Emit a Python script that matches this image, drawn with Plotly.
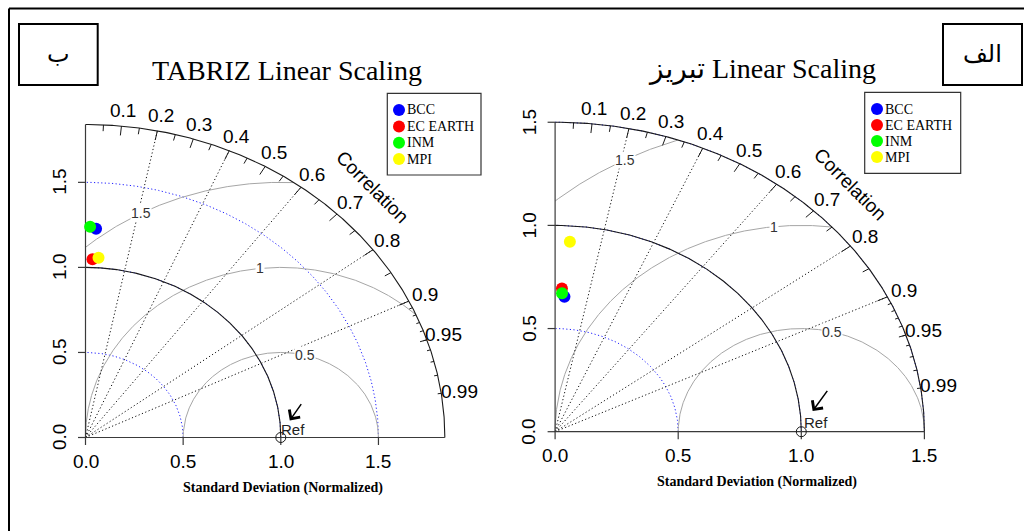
import numpy as np
import plotly.graph_objects as go

# ---------------- data ----------------
models = ["BCC", "EC EARTH", "INM", "MPI"]
model_colors = ["#0000FF", "#FF0000", "#00FF00", "#FFFF00"]

# panel "ب" (left): TABRIZ Linear Scaling
left_sd = [1.229, 1.049, 1.239, 1.059]
left_cor = [0.044, 0.034, 0.019, 0.063]

# panel "الف" (right): تبریز Linear Scaling
right_sd = [0.655, 0.695, 0.672, 0.923]
right_cor = [0.058, 0.040, 0.042, 0.065]

ref_sd = 1.0
left_maxsd = 1.84
right_maxsd = 1.5

sd_ticks = [0.0, 0.5, 1.0, 1.5]
sd_tick_labels = ["0.0", "0.5", "1.0", "1.5"]
cor_label_values = [0.1, 0.2, 0.3, 0.4, 0.5, 0.6, 0.7, 0.8, 0.9, 0.95, 0.99]
cor_label_text = ["0.1", "0.2", "0.3", "0.4", "0.5", "0.6", "0.7", "0.8", "0.9", "0.95", "0.99"]
cor_big_ticks = [0.1, 0.2, 0.3, 0.4, 0.5, 0.6, 0.7, 0.8, 0.9]
cor_med_ticks = [0.05, 0.15, 0.25, 0.35, 0.45, 0.55, 0.65, 0.75, 0.85, 0.95]
cor_small_ticks = [0.91, 0.92, 0.93, 0.94, 0.95, 0.96, 0.97, 0.98, 0.99]
cor_lines = [0.2, 0.4, 0.6, 0.8, 0.9]
rms_levels = [0.5, 1.0, 1.5]
rms_labels = ["0.5", "1", "1.5"]

# ---------------- layout geometry (pixels) ----------------
W, H = 1024, 531
SANS = "Liberation Sans, Arial, sans-serif"
SERIF = "Liberation Serif, Times New Roman, DejaVu Sans, serif"

panels = [
    dict(xa="x", ya="y", sd=left_sd, cor=left_cor, maxsd=left_maxsd,
         x0=85.5, y0=437.5, sx=195.3, sy=170.1, plo=0, phi=512,
         title="TABRIZ Linear Scaling", title_xy=(286.7, 70),
         xlabel_xy=(282.7, 488.3),
         legend_box=(387.3, 93.3, 481, 175), legend_dot_x=399, legend_text_x=405,
         legend_rows=[110, 126.5, 142.8, 159],
         tag="ب", tag_box=(19, 24, 97.7, 85)),
    dict(xa="x2", ya="y2", sd=right_sd, cor=right_cor, maxsd=right_maxsd,
         x0=555.1, y0=431.7, sx=246.2, sy=206.3, plo=512, phi=1024,
         title="تبریز Linear Scaling", title_xy=(762, 69),
         xlabel_xy=(757, 481.7),
         legend_box=(864.7, 92.3, 960.7, 173.3), legend_dot_x=877, legend_text_x=883,
         legend_rows=[109, 125, 141, 157],
         tag="الف", tag_box=(943, 24, 1022, 85)),
]

fig = go.Figure()
shapes = []
annotations = []


def pxp(px, py):
    return px / W, 1 - py / H


def add_line(p, xs, ys, color, width, dash=None):
    fig.add_trace(go.Scatter(x=xs, y=ys, mode="lines",
                             line=dict(color=color, width=width, dash=dash),
                             hoverinfo="skip", showlegend=False,
                             xaxis=p["xa"], yaxis=p["ya"]))


def paper_text(px, py, text, font, xanchor="center"):
    x, y = pxp(px, py)
    annotations.append(dict(x=x, y=y, xref="paper", yref="paper", text=text,
                            showarrow=False, xanchor=xanchor, yanchor="middle", font=font))


DOT = "1.2px,2.4px"

for k, p in enumerate(panels):
    m = p["maxsd"]
    xa, ya = p["xa"], p["ya"]
    to_d = lambda px, py, p=p: ((px - p["x0"]) / p["sx"], (p["y0"] - py) / p["sy"])

    # blue dotted SD arcs
    q = np.linspace(0, np.pi / 2, 400)
    for s in sd_ticks:
        if 0 < s <= m + 1e-9:
            add_line(p, s * np.cos(q), s * np.sin(q), "#2020FF", 1, DOT)

    # RMS (gamma) arcs around the reference point
    t = np.linspace(0, np.pi, 1200)
    for g in rms_levels:
        gx = ref_sd + g * np.cos(t)
        gy = g * np.sin(t)
        ok = (gx >= 0) & (gx ** 2 + gy ** 2 <= m ** 2 + 1e-9)
        add_line(p, gx[ok], gy[ok], "#A6A6A6", 1)

    # correlation radial dotted lines
    xs, ys = [], []
    for c in cor_lines:
        xs += [0, m * c, None]
        ys += [0, m * np.sqrt(1 - c * c), None]
    add_line(p, xs, ys, "#111111", 1, DOT)

    # reference SD arc and outer arc
    add_line(p, ref_sd * np.cos(q), ref_sd * np.sin(q), "#1a1a1a", 1.1)
    add_line(p, m * np.cos(q), m * np.sin(q), "#1a1a1a", 1.1)

    # axes lines + ticks
    ax_tick_x = 7.5 / p["sx"]
    ax_tick_y = 7.5 / p["sy"]
    xs = [0, m, None, 0, 0, None]
    ys = [0, 0, None, 0, m, None]
    for s in sd_ticks:
        if s <= m:
            xs += [s, s, None, 0, -ax_tick_x, None]
            ys += [0, -ax_tick_y, None, s, s, None]
    add_line(p, xs, ys, "#3a3a3a", 1.2)

    # correlation ticks on outer arc
    xs, ys = [], []
    for ticks, f in ((cor_big_ticks, 0.97), (cor_med_ticks, 0.98), (cor_small_ticks, 0.99)):
        for c in ticks:
            a = np.arccos(c)
            xs += [m * np.cos(a), f * m * np.cos(a), None]
            ys += [m * np.sin(a), f * m * np.sin(a), None]
    add_line(p, xs, ys, "#1a1a1a", 1)

    # reference point
    fig.add_trace(go.Scatter(x=[ref_sd], y=[0], mode="markers",
                             marker=dict(symbol="circle-open", size=10,
                                         color="#1a1a1a", line=dict(width=1)),
                             hoverinfo="skip", showlegend=False, xaxis=xa, yaxis=ya))

    # model points
    sd = np.array(p["sd"])
    cr = np.array(p["cor"])
    fig.add_trace(go.Scatter(x=sd * cr, y=sd * np.sqrt(1 - cr ** 2), mode="markers",
                             marker=dict(size=12, color=model_colors, line=dict(width=0)),
                             text=models, hoverinfo="text", showlegend=False,
                             xaxis=xa, yaxis=ya))

    # legend dots
    lx, ly = [], []
    for r in p["legend_rows"]:
        dx, dy = to_d(p["legend_dot_x"], r)
        lx.append(dx)
        ly.append(dy)
    fig.add_trace(go.Scatter(x=lx, y=ly, mode="markers",
                             marker=dict(size=12, color=model_colors, line=dict(width=0)),
                             hoverinfo="skip", showlegend=False, xaxis=xa, yaxis=ya))

    # tick labels
    for s, lab in zip(sd_ticks, sd_tick_labels):
        if s <= m:
            annotations.append(dict(x=0, y=s, xref=xa, yref=ya, text=lab, showarrow=False,
                                    xshift=-26, textangle=-90,
                                    font=dict(family=SANS, size=19, color="black")))
            annotations.append(dict(x=s, y=0, xref=xa, yref=ya, text=lab, showarrow=False,
                                    yshift=-24, font=dict(family=SANS, size=19, color="black")))

    # correlation labels
    for c, lab in zip(cor_label_values, cor_label_text):
        a = np.arccos(c)
        annotations.append(dict(x=1.05 * m * np.cos(a), y=1.05 * m * np.sin(a),
                                xref=xa, yref=ya, text=lab, showarrow=False,
                                font=dict(family=SANS, size=19, color="black")))
    annotations.append(dict(x=0.8 * m, y=0.8 * m, xref=xa, yref=ya, text="Correlation",
                            showarrow=False, textangle=45,
                            font=dict(family=SANS, size=19, color="black")))

    # RMS labels (plotrix positions along the arcs)
    labelpos = np.floor(np.linspace(45, 70, len(rms_levels)))
    for g, lab, idx in zip(rms_levels, rms_labels, labelpos):
        ang = (idx - 1) * 0.03
        annotations.append(dict(x=ref_sd + g * np.cos(ang), y=g * np.sin(ang),
                                xref=xa, yref=ya, text=lab, showarrow=False,
                                bgcolor="white", borderpad=0,
                                font=dict(family=SANS, size=14, color="#333333")))

    # Ref label and arrow
    annotations.append(dict(x=1.06, y=0.045, xref=xa, yref=ya, text="Ref", showarrow=False,
                            font=dict(family=SANS, size=15, color="#222222")))
    annotations.append(dict(x=1.046, y=0.10, xref=xa, yref=ya, ax=1.110, ay=0.205,
                            axref=xa, ayref=ya, text="", showarrow=True,
                            arrowhead=4, arrowsize=1.7, arrowwidth=1.5, arrowcolor="black",
                            standoff=0, startstandoff=0))

    # title and x label
    paper_text(*p["title_xy"], p["title"], dict(family=SERIF, size=28, color="black"))
    paper_text(*p["xlabel_xy"], "<b>Standard Deviation (Normalized)</b>",
               dict(family=SERIF, size=14, color="black"))

    # legend box + texts
    b = p["legend_box"]
    x0, y1 = pxp(b[0], b[1])
    x1, y0 = pxp(b[2], b[3])
    shapes.append(dict(type="rect", xref="paper", yref="paper", x0=x0, x1=x1, y0=y0, y1=y1,
                       line=dict(color="#333333", width=1.2), fillcolor="white", layer="below"))
    for name, r in zip(models, p["legend_rows"]):
        paper_text(p["legend_text_x"], r, name, dict(family=SERIF, size=14, color="black"),
                   xanchor="left")

    # tag box
    b = p["tag_box"]
    x0, y1 = pxp(b[0], b[1])
    x1, y0 = pxp(b[2], b[3])
    shapes.append(dict(type="rect", xref="paper", yref="paper", x0=x0, x1=x1, y0=y0, y1=y1,
                       line=dict(color="black", width=2)))
    paper_text((b[0] + b[2]) / 2, (b[1] + b[3]) / 2, p["tag"],
               dict(family=SERIF, size=24, color="black"))

# outer frame (top and left edges)
fx, fy = pxp(9, 8.5)
shapes.append(dict(type="line", xref="paper", yref="paper", x0=fx, x1=1.0, y0=fy, y1=fy,
                   line=dict(color="black", width=2)))
shapes.append(dict(type="line", xref="paper", yref="paper", x0=fx, x1=fx, y0=fy, y1=0,
                   line=dict(color="black", width=2)))

layout_axes = {}
for i, p in enumerate(panels):
    xr = [(p["plo"] - p["x0"]) / p["sx"], (p["phi"] - p["x0"]) / p["sx"]]
    yr = [-(H - p["y0"]) / p["sy"], p["y0"] / p["sy"]]
    sfx = "" if i == 0 else "2"
    layout_axes["xaxis" + sfx] = dict(domain=[p["plo"] / W, p["phi"] / W], range=xr,
                                      visible=False, anchor="y" + sfx, fixedrange=True)
    layout_axes["yaxis" + sfx] = dict(domain=[0, 1], range=yr, visible=False,
                                      anchor="x" + sfx, fixedrange=True)

fig.update_layout(width=W, height=H, margin=dict(l=0, r=0, t=0, b=0, pad=0),
                  paper_bgcolor="white", plot_bgcolor="white", showlegend=False,
                  shapes=shapes, annotations=annotations, **layout_axes)

fig.write_html("out.html", config={"displayModeBar": False},
               post_script="document.body.style.margin='0px';")
